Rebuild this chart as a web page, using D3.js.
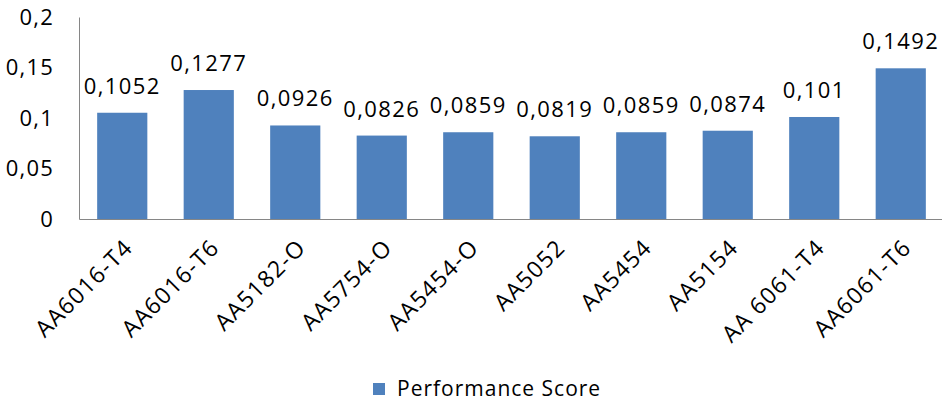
<!DOCTYPE html>
<html>
<head>
<meta charset="utf-8">
<script src="https://cdn.jsdelivr.net/npm/d3@7"></script>
<style>
    body { margin: 0; background: #fff; }
    text { font-family: "Open Sans", "Noto Sans", sans-serif; fill: #000; }
</style>
</head>
<body>
<div class="chart"></div>
<script>
const categories = ["AA6016-T4", "AA6016-T6", "AA5182-O", "AA5754-O", "AA5454-O", "AA5052", "AA5454", "AA5154", "AA 6061-T4", "AA6061-T6"];
const scores = [0.1052, 0.1277, 0.0926, 0.0826, 0.0859, 0.0819, 0.0859, 0.0874, 0.101, 0.1492];
const yTicks = [0, 0.05, 0.1, 0.15, 0.2];
const seriesName = "Performance Score";

const W = 942, H = 406;
let margin = {top: 17, right: -2, bottom: 187, left: 79},
    width = W - margin.left - margin.right,
    height = H - margin.top - margin.bottom;

const comma = v => String(v).replace(".", ",");

let svg = d3.select(".chart").append("svg")
    .attr("width", W)
    .attr("height", H)
    .append("g")
    .attr("transform", "translate(" + margin.left + "," + margin.top + ")");

let x = d3.scaleBand()
    .domain(categories)
    .range([0, width])
    .paddingInner(0.42)
    .paddingOuter(0.21);

let y = d3.scaleLinear()
    .domain([0, 0.2])
    .range([height, 0]);

// bars
svg.selectAll(".bar")
    .data(scores)
    .enter().append("rect")
    .attr("class", "bar")
    .attr("x", (d, i) => x(categories[i]))
    .attr("width", x.bandwidth())
    .attr("y", d => y(d))
    .attr("height", d => height - y(d))
    .attr("fill", "#4F81BD");

// value labels
svg.selectAll(".val")
    .data(scores)
    .enter().append("text")
    .attr("class", "val")
    .attr("x", (d, i) => x(categories[i]) + x.bandwidth() / 2)
    .attr("y", d => y(d) - 19)
    .attr("text-anchor", "middle")
    .style("font-size", "22px")
    .style("letter-spacing", "1.4px")
    .text(d => comma(d));

// y axis
let yAxis = svg.append("g")
    .call(d3.axisLeft(y).tickValues(yTicks).tickSize(0).tickPadding(25).tickFormat(d => comma(d)));
yAxis.select(".domain").attr("stroke", "#868686");
yAxis.selectAll("text")
    .style("font-size", "22px")
    .style("letter-spacing", "1.2px");

// x axis
let xAxis = svg.append("g")
    .attr("transform", "translate(0," + height + ")")
    .call(d3.axisBottom(x).tickSize(0).tickFormat(""));
xAxis.select(".domain").attr("stroke", "#868686");
xAxis.selectAll(".tick").append("text")
    .attr("text-anchor", "end")
    .attr("transform", "translate(12,30) rotate(-45)")
    .style("font-size", "23px")
    .style("letter-spacing", "1.3px")
    .text(d => d);

// legend
let lg = d3.select(".chart svg").append("g")
    .attr("transform", "translate(373,383)");
lg.append("rect")
    .attr("width", 12)
    .attr("height", 12)
    .attr("fill", "#4F81BD");
lg.append("text")
    .attr("x", 24)
    .attr("y", 13)
    .style("font-size", "21px")
    .style("letter-spacing", "1px")
    .text(seriesName);
</script>
</body>
</html>
